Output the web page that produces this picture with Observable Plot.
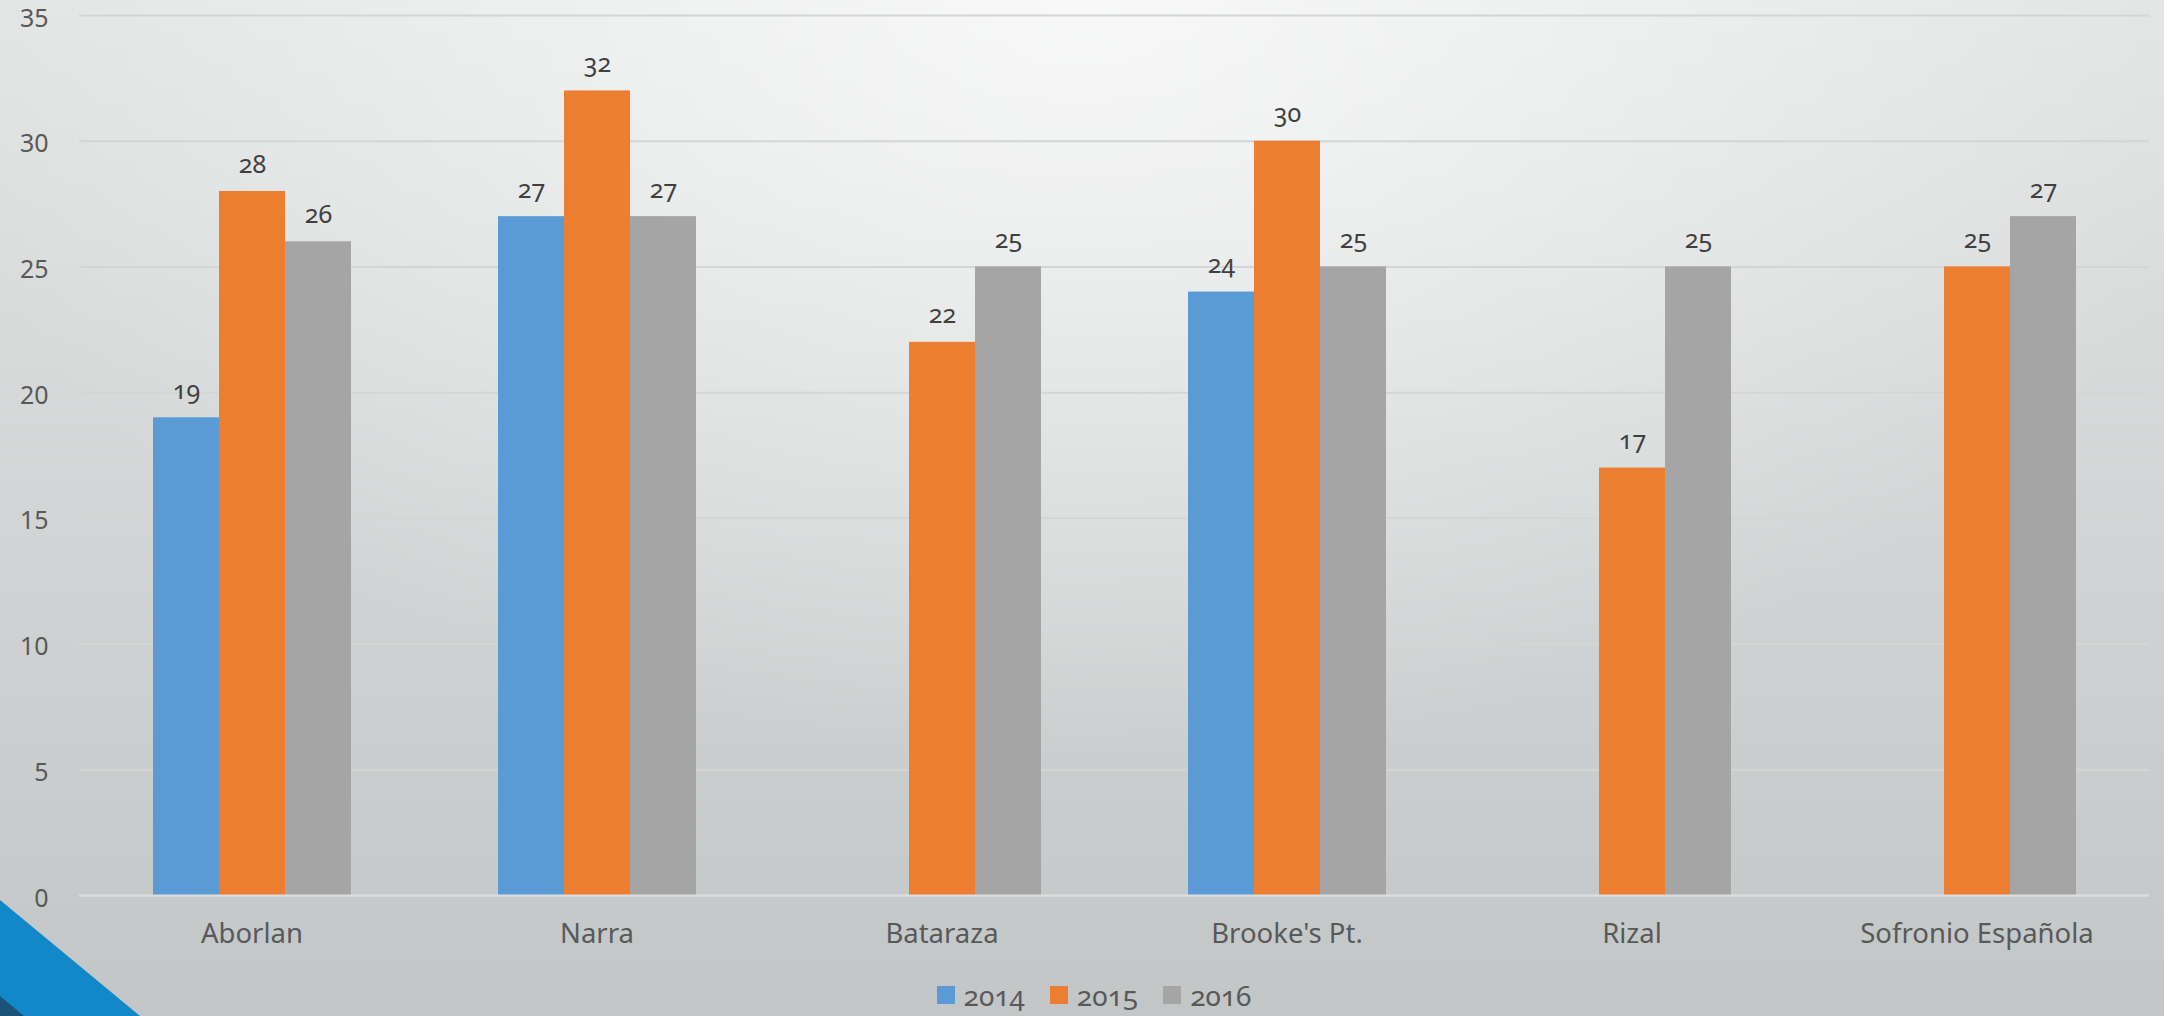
<!DOCTYPE html>
<html>
<head>
<meta charset="utf-8">
<script src="https://cdn.jsdelivr.net/npm/d3@7"></script>
<script src="https://cdn.jsdelivr.net/npm/@observablehq/plot@0.6"></script>
<style>
  html, body { margin: 0; padding: 0; }
  body {
    width: 2164px; height: 1016px; overflow: hidden; position: relative;
    background:
      radial-gradient(ellipse 55% 75% at 50% 0%, rgba(255,255,255,0.75), rgba(255,255,255,0) 100%),
      linear-gradient(#e2e4e4, #c3c6c7);
    font-family: "Noto Sans", "Open Sans", sans-serif;
    font-variant-numeric: oldstyle-nums;
  }
  #chart { position: absolute; left: 0; top: 0; }
  #chart svg { font-variant-numeric: oldstyle-nums; }
  #legend {
    position: absolute; left: 34px; top: 976px; width: 2120px;
    display: flex; justify-content: center; gap: 25px;
    font-size: 28px; color: #595959;
  }
  .item { display: flex; align-items: center; gap: 9px; }
  .sw { width: 18px; height: 18px; display: inline-block; }
  #deco { position: absolute; left: 0; top: 0; pointer-events: none; }
</style>
</head>
<body>
<div id="chart"></div>
<div id="legend"></div>
<svg id="deco" width="2164" height="1016">
  <polygon points="0,986 30,1016 0,1016" fill="#1b5278"></polygon>
  <polygon points="0,900 140,1016 24,1016 0,996" fill="#1288c8"></polygon>
</svg>
<script>
const categories = ["Aborlan", "Narra", "Bataraza", "Brooke's Pt.", "Rizal", "Sofronio Española"];
const years = ["2014", "2015", "2016"];
const values2014 = [19, 27, null, 24, null, null];
const values2015 = [28, 32, 22, 30, 17, 25];
const values2016 = [26, 27, 25, 25, 25, 27];
const colors = ["#5b9bd5", "#ed7d31", "#a5a5a5"];
const yTicks = [0, 5, 10, 15, 20, 25, 30, 35];

const series = [values2014, values2015, values2016];
const data = [];
categories.forEach((c, i) => {
  years.forEach((y, j) => {
    const v = series[j][i];
    if (v != null) data.push({category: c, year: y, value: v});
  });
});

const chart = Plot.plot({
  width: 2164,
  height: 962,
  marginTop: 15,
  marginBottom: 67,
  marginLeft: 77,
  marginRight: 14,
  style: {
    background: "transparent",
    fontFamily: "'Noto Sans', 'Open Sans', sans-serif",
    fontSize: "25px",
    color: "#595959",
    overflow: "visible"
  },
  fx: { domain: categories, padding: 0, label: null, axis: null },
  x: { domain: years, paddingInner: 0, paddingOuter: 1.1, axis: null },
  y: { domain: [0, 35], ticks: yTicks, label: null, axis: null },
  color: { domain: years, range: colors },
  marks: [
    Plot.gridY(yTicks, { stroke: "#d4d6d6", strokeOpacity: 1, strokeWidth: 2 }),
    Plot.axisY(yTicks, { tickSize: 0, tickPadding: 31, fontSize: 25, label: null, dy: 3, anchor: "left" }),
    Plot.barY(data, { fx: "category", x: "year", y: "value", fill: "year", insetLeft: 0, insetRight: 0 }),
    Plot.ruleY([0], { stroke: "#dcdddd", strokeWidth: 2 }),
    Plot.text(data, { fx: "category", x: "year", y: "value", text: d => String(d.value), lineAnchor: "bottom", dy: -19, fontSize: 25, fill: "#404040" }),
    Plot.axisFx({ anchor: "bottom", tickSize: 0, tickPadding: 28, fontSize: 27.5, label: null, fill: "#595959" })
  ]
});
document.getElementById("chart").appendChild(chart);

const legend = document.getElementById("legend");
years.forEach((y, i) => {
  const item = document.createElement("div");
  item.className = "item";
  const sw = document.createElement("span");
  sw.className = "sw";
  sw.style.background = colors[i];
  const t = document.createElement("span");
  t.textContent = y;
  item.appendChild(sw);
  item.appendChild(t);
  legend.appendChild(item);
});
</script>
</body>
</html>
